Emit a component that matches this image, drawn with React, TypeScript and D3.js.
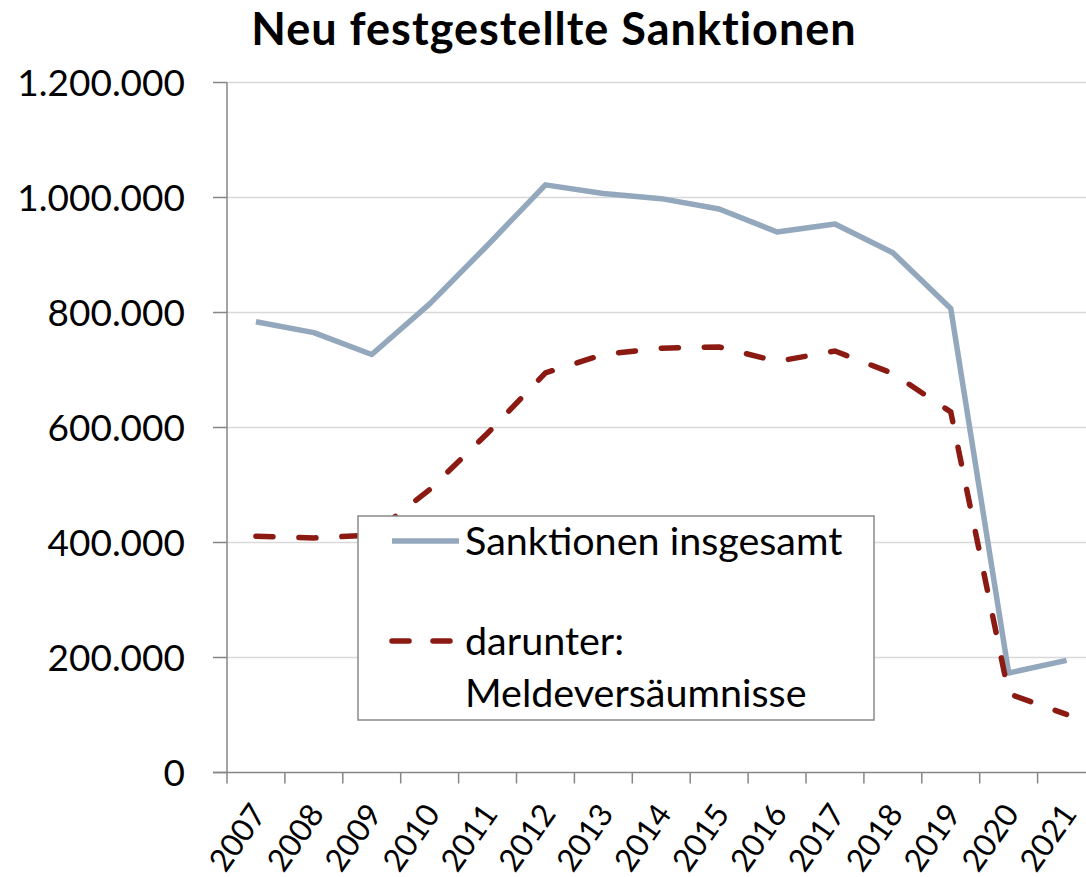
import React from 'react';
import * as d3 from 'd3';

const years = ['2007', '2008', '2009', '2010', '2011', '2012', '2013', '2014', '2015', '2016', '2017', '2018', '2019', '2020', '2021'];
const insgesamt = [784000, 765000, 727000, 815000, 917000, 1022000, 1007000, 998000, 980000, 940000, 954000, 904000, 807000, 173000, 195000];
const meldeversaeumnisse = [411000, 408000, 413000, 492000, 590000, 695000, 727000, 738000, 740000, 715000, 733000, 694000, 627000, 137000, 101000];
const yTicks = [0, 200000, 400000, 600000, 800000, 1000000, 1200000];

const W = 1086;
const H = 877;
const left = 227;
const top = 82.5;
const bottom = 772.5;
const bandW = 57.9;
const FONT = 'Lato, "Liberation Sans", sans-serif';

const fmt = (v: number) => d3.format(',')(v).replace(/,/g, '.');

export default function App() {
  const x = d3.scaleBand<string>().domain(years).range([left, left + bandW * years.length]).padding(0);
  const y = d3.scaleLinear().domain([0, 1200000]).range([bottom, top]);
  const cx = (d: string) => (x(d) as number) + x.bandwidth() / 2;

  const line = d3
    .line<number>()
    .x((_, i) => cx(years[i]))
    .y((v) => y(v));

  const tickXs = years.map((d) => x(d) as number).concat([left + bandW * years.length]);

  return (
    <svg width={W} height={H} style={{ position: 'absolute', left: 0, top: 0, background: '#fff' }} fontFamily={FONT}>
      <text x={554} y={45} textAnchor="middle" fontSize={45} fontWeight="bold" letterSpacing={1} fill="#000">
        Neu festgestellte Sanktionen
      </text>

      {/* gridlines */}
      {yTicks.slice(1).map((t) => (
        <line key={t} x1={left} x2={W} y1={y(t)} y2={y(t)} stroke="#d9d9d9" strokeWidth={1.5} />
      ))}

      {/* y axis */}
      <line x1={left} x2={left} y1={top} y2={bottom} stroke="#868686" strokeWidth={1.5} />
      {yTicks.map((t) => (
        <g key={t}>
          <line x1={213} x2={left} y1={y(t)} y2={y(t)} stroke="#868686" strokeWidth={1.5} />
          <text x={185} y={y(t)} dy="0.36em" textAnchor="end" fontSize={37} fill="#000">
            {fmt(t)}
          </text>
        </g>
      ))}

      {/* x axis */}
      <line x1={213} x2={W} y1={bottom} y2={bottom} stroke="#868686" strokeWidth={1.5} />
      {tickXs.map((tx, i) => (
        <line key={i} x1={tx} x2={tx} y1={bottom} y2={bottom + 11} stroke="#868686" strokeWidth={1.5} />
      ))}
      {years.map((d) => (
        <text
          key={d}
          transform={`translate(${cx(d) + 11.5},${814}) rotate(-55)`}
          textAnchor="end"
          fontSize={31.5}
          fill="#000"
        >
          {d}
        </text>
      ))}

      {/* series */}
      <path d={line(insgesamt) as string} fill="none" stroke="#93a8bc" strokeWidth={5.5} strokeLinejoin="round" />
      <path
        d={line(meldeversaeumnisse) as string}
        fill="none"
        stroke="#8b1a12"
        strokeWidth={5.5}
        strokeDasharray="17,26"
        strokeLinecap="round"
      />

      {/* legend */}
      <rect x={358} y={516} width={516} height={204} fill="#fff" stroke="#8a8a8a" strokeWidth={1.5} />
      <line x1={392} x2={459} y1={541} y2={541} stroke="#93a8bc" strokeWidth={5.5} />
      <text x={465} y={555} fontSize={39.5} fill="#000">Sanktionen insgesamt</text>
      <line x1={392} x2={459} y1={641} y2={641} stroke="#8b1a12" strokeWidth={5.5} strokeDasharray="17,24" strokeLinecap="round" />
      <text x={465} y={655} fontSize={39.5} fill="#000">darunter:</text>
      <text x={465} y={707} fontSize={39.5} fill="#000">Meldeversäumnisse</text>
    </svg>
  );
}
